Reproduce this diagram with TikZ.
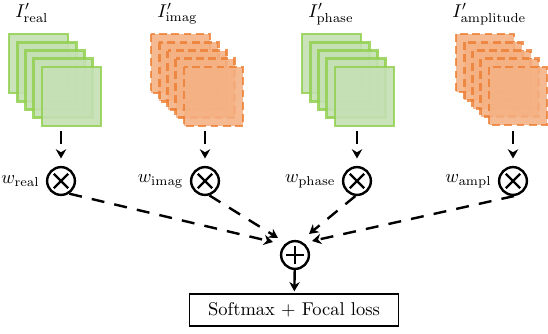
\documentclass[tikz,border=0pt]{standalone}
\usetikzlibrary{arrows.meta,calc}

\definecolor{gborder}{RGB}{146,208,80}
\definecolor{gfill}{RGB}{197,224,180}
\definecolor{oborder}{RGB}{237,125,49}
\definecolor{ofill}{RGB}{244,177,131}

\tikzset{
  gsq/.style={draw=gborder, fill=gfill, line width=1.6pt, draw opacity=0.85, fill opacity=0.9},
  osq/.style={draw=oborder, fill=ofill, line width=1.6pt, draw opacity=0.8, fill opacity=0.88,
              dash pattern=on 4.2pt off 2.4pt},
  flow/.style={line width=1.3pt, dash pattern=on 7pt off 5.5pt,
               -{Stealth[length=5pt,width=5.6pt]}},
  solidflow/.style={line width=1.3pt, -{Stealth[length=5pt,width=5.6pt]}},
  mult/.style={circle, draw, line width=1.3pt, minimum size=15pt, inner sep=0pt,
    path picture={
      \draw[line width=1.3pt]
        ([shift={(-3.9pt,-3.9pt)}]path picture bounding box.center) --
        ([shift={(3.9pt,3.9pt)}]path picture bounding box.center)
        ([shift={(-3.9pt,3.9pt)}]path picture bounding box.center) --
        ([shift={(3.9pt,-3.9pt)}]path picture bounding box.center);}},
  addop/.style={circle, draw, line width=1.3pt, minimum size=15pt, inner sep=0pt,
    path picture={
      \draw[line width=1.5pt]
        ([xshift=-4.8pt]path picture bounding box.center) --
        ([xshift=4.8pt]path picture bounding box.center)
        ([yshift=-4.8pt]path picture bounding box.center) --
        ([yshift=4.8pt]path picture bounding box.center);}},
  wlab/.style={inner sep=3.3pt},
  lossbox/.style={draw, line width=0.9pt, minimum width=112.9pt, minimum height=17.3pt, inner sep=0pt},
}

\begin{document}
\begin{tikzpicture}[x=0.54pt, y=-0.54pt]
\useasboundingbox (0,0) rectangle (548,333);

% image stacks
\foreach \i in {0,...,4} {
  \draw[gsq] ({9+8.25*\i},{34+8.25*\i}) rectangle +(59,59);
  \draw[osq] ({151+8.25*\i},{34+8.25*\i}) rectangle +(59,59);
  \draw[gsq] ({302+8.25*\i},{34+8.25*\i}) rectangle +(59,59);
  \draw[osq] ({456+8.25*\i},{34+8.25*\i}) rectangle +(58,58);
}

% stack titles
\node[anchor=base west, inner sep=0pt] (lreal)  at (15,17)  {$I'_{\mathrm{real}}$};
\node[anchor=base west, inner sep=0pt] (limag)  at (157,17) {$I'_{\mathrm{imag}}$};
\node[anchor=base west, inner sep=0pt] (lphase) at (308,17) {$I'_{\mathrm{phase}}$};
\node[anchor=base west, inner sep=0pt] (lampl)  at (452,17) {$I'_{\mathrm{amplitude}}$};

% stack outputs
\coordinate (sreal)  at (61,131);
\coordinate (simag)  at (205,131);
\coordinate (sphase) at (357,131);
\coordinate (sampl)  at (513,131);

% weighting
\node[mult, label={[wlab]left:$w_{\mathrm{real}}$}]  (mreal)  at (61,181)  {};
\node[mult, label={[wlab]left:$w_{\mathrm{imag}}$}]  (mimag)  at (205,181) {};
\node[mult, label={[wlab]left:$w_{\mathrm{phase}}$}] (mphase) at (357,181) {};
\node[mult, label={[wlab]left:$w_{\mathrm{ampl}}$}]  (mampl)  at (513,181) {};

% sum and loss
\node[addop] (sum) at (295,255) {};
\node[lossbox] (loss) at (294,310) {Softmax $+$ Focal loss};

\coordinate (treal)  at (273,242);
\coordinate (timag)  at (278,238);
\coordinate (tphase) at (309,234);
\coordinate (tampl)  at (312,241);

\foreach \s/\m in {sreal/mreal, simag/mimag, sphase/mphase, sampl/mampl}
  \draw[flow, shorten >=4pt] (\s) -- (\m);

\draw[flow] (mreal.-57)  -- (treal);
\draw[flow] (mimag.-73)  -- (timag);
\draw[flow] (mphase.-96) -- (tphase);
\draw[flow] (mampl.-86)  -- (tampl);

\draw[solidflow, shorten >=1pt] (sum) -- (loss);
\end{tikzpicture}
\end{document}
